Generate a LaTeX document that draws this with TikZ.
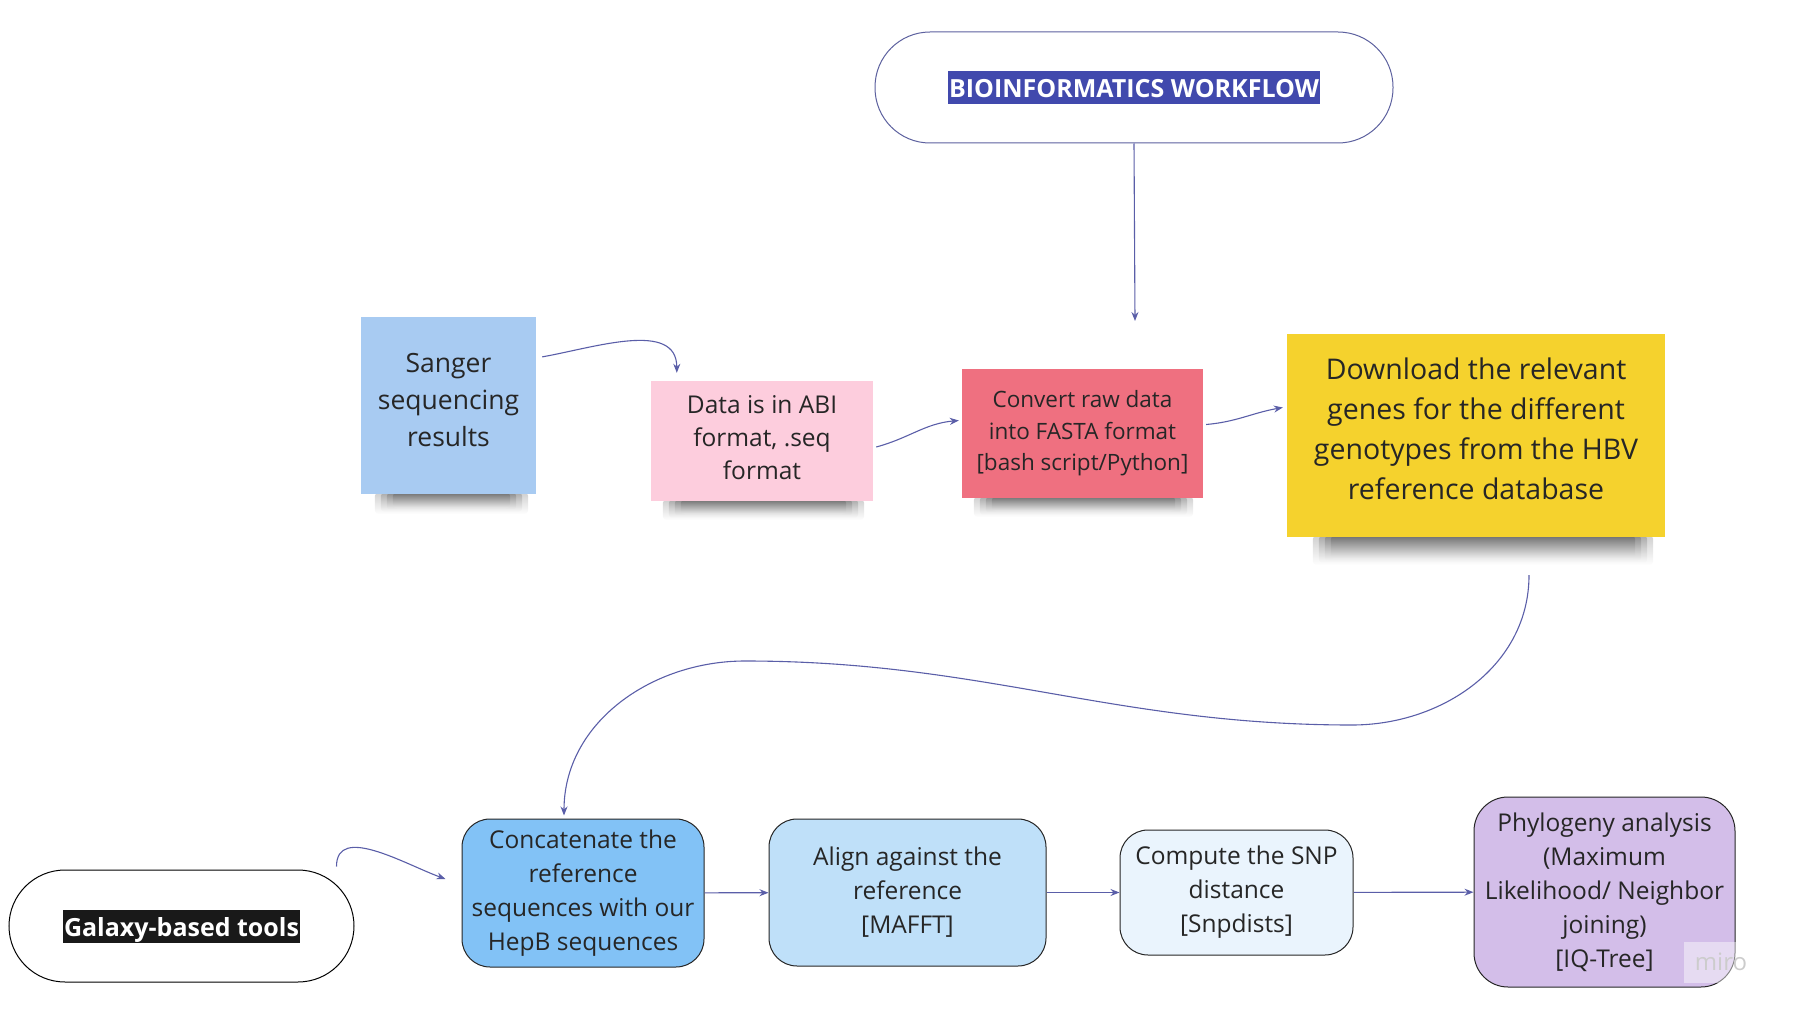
\documentclass[tikz,border=0pt]{standalone}
\usepackage{fontspec}
\setmainfont{Open Sans}
\usetikzlibrary{arrows.meta,backgrounds}
\definecolor{linkc}{RGB}{90,94,168}
\definecolor{pillc}{RGB}{92,96,158}
\definecolor{hlblue}{RGB}{65,73,173}
\definecolor{sangerc}{RGB}{168,203,242}
\definecolor{pinkc}{RGB}{253,205,221}
\definecolor{redc}{RGB}{239,112,128}
\definecolor{yellowc}{RGB}{245,210,45}
\definecolor{concatc}{RGB}{130,194,246}
\definecolor{alignc}{RGB}{191,224,249}
\definecolor{snpc}{RGB}{234,244,253}
\definecolor{phyloc}{RGB}{211,190,233}
\definecolor{textc}{RGB}{38,38,38}
% deeper last line lifts the text block
\newcommand\lifttext[1]{\rule[-#1]{0pt}{#1}}
% soft shadow under a sticky note: node, left inset, right inset, depth
\newcommand\noteshadow[4]{%
  \foreach \k in {0,...,3}{
    \shade[top color=black,bottom color=white,opacity=.19,rounded corners=4pt]
      ([xshift=#2pt+\k*6pt,yshift=2pt]#1.south west) rectangle
      ([xshift=-#3pt-\k*6pt,yshift=-#4pt+\k*2pt]#1.south east);
  }}
\tikzset{
  note/.style={inner sep=0pt,align=center,text=textc},
  stepbox/.style={draw=black!85,line width=1pt,rounded corners=28pt,inner sep=0pt,
    align=center,text=textc,font=\fontsize{24.5}{34}\selectfont},
  pill/.style={draw,line width=1pt,inner sep=0pt},
  tag/.style={text=white,inner xsep=1pt,inner ysep=0pt,text height=27pt,text depth=6pt,
    font=\bfseries\fontsize{25}{30}\selectfont},
  flow/.style={draw=linkc,line width=1.1pt,-{Stealth[length=9pt,width=7pt]}}
}
\begin{document}
\begin{tikzpicture}[x=1pt,y=-1pt]
\useasboundingbox (0,0) rectangle (1796,1014);
% title
\node[pill,draw=pillc,rounded corners=55pt,minimum width=518pt,minimum height=111pt] (title) at (1134,87.5) {};
\node[tag,fill=hlblue] (titletag) at (title) {BIOINFORMATICS WORKFLOW};
% sticky notes
\node[note,fill=sangerc,minimum width=175pt,minimum height=177pt,font=\fontsize{26.5}{36.7}\selectfont] (sanger) at (448.5,405.5) {Sanger\\sequencing\\results\lifttext{11.5pt}};
\node[note,fill=pinkc,minimum width=222pt,minimum height=120pt,font=\fontsize{24.5}{33}\selectfont] (pink) at (762,441) {Data is in ABI\\format, .seq\\format\lifttext{7pt}};
\node[note,fill=redc,minimum width=241pt,minimum height=129pt,font=\fontsize{22.5}{31.5}\selectfont] (conv) at (1082.5,433.5) {Convert raw data\\into FASTA format\\{[bash script/Python]}};
\node[note,fill=yellowc,minimum width=378pt,minimum height=203pt,font=\fontsize{28.5}{40}\selectfont] (down) at (1476,435.5) {Download the relevant\\genes for the different\\genotypes from the HBV\\reference database\lifttext{14pt}};
\begin{scope}[on background layer]
\noteshadow{sanger}{14}{8}{20}
\noteshadow{pink}{12}{9}{19}
\noteshadow{conv}{12}{10}{19}
\noteshadow{down}{26}{12}{28}
\end{scope}
% galaxy steps
\node[pill,draw=black,rounded corners=56pt,minimum width=345pt,minimum height=112pt] (galaxy) at (181.5,926) {};
\node[tag,fill=black!90] (galaxytag) at (galaxy) {Galaxy-based tools};
\node[stepbox,fill=concatc,minimum width=242pt,minimum height=148pt] (concat) at (583,893) {Concatenate the\\reference\\sequences with our\\HepB sequences};
\node[stepbox,fill=alignc,minimum width=277pt,minimum height=147pt] (align) at (907.5,892.5) {Align against the\\reference\\{[MAFFT]}};
\node[stepbox,fill=snpc,minimum width=233pt,minimum height=125pt] (snp) at (1236.5,892.5) {Compute the SNP\\distance\\{[Snpdists]}};
\node[stepbox,fill=phyloc,rounded corners=34pt,minimum width=261pt,minimum height=190pt] (phylo) at (1604.5,892) {Phylogeny analysis\\(Maximum\\Likelihood/ Neighbor\\joining)\\{[IQ-Tree]}};
\node[fill=white,fill opacity=.45,text opacity=1,text=gray!40,minimum width=74pt,minimum height=41pt,inner sep=0pt,font=\fontsize{24}{28}\selectfont] (miro) at (1721,962) {miro};
% connectors
\coordinate (convin) at (1135,321);
\coordinate (dip) at (1352,725);
\coordinate (crest) at (745,661);
\draw[flow] (title.south) -- (convin);
\draw[flow] ([xshift=6pt]sanger.29) to[out=10,in=90] ([shift={(26pt,8pt)}]pink.north west);
\draw[flow] ([shift={(3pt,-6pt)}]pink.east) to[out=15,in=185] ([xshift=-3pt,yshift=13pt]conv.west);
\draw[flow] ([shift={(3pt,9pt)}]conv.east) to[out=5,in=190] ([xshift=-4pt,yshift=28pt]down.west);
\draw[flow] ([shift={(53pt,-38pt)}]down.south) to[out=-90,in=0] (dip) to[out=180,in=0] (crest) to[out=180,in=90] ([shift={(-19pt,3pt)}]concat.north);
\draw[flow] ([shift={(-18pt,3pt)}]galaxy.north east) to[out=90,in=160] ([shift={(-16pt,14pt)}]concat.west);
\draw[flow] (concat) -- (align);
\draw[flow] (align) -- (snp);
\draw[flow] (snp) -- (phylo);
\end{tikzpicture}
\end{document}
